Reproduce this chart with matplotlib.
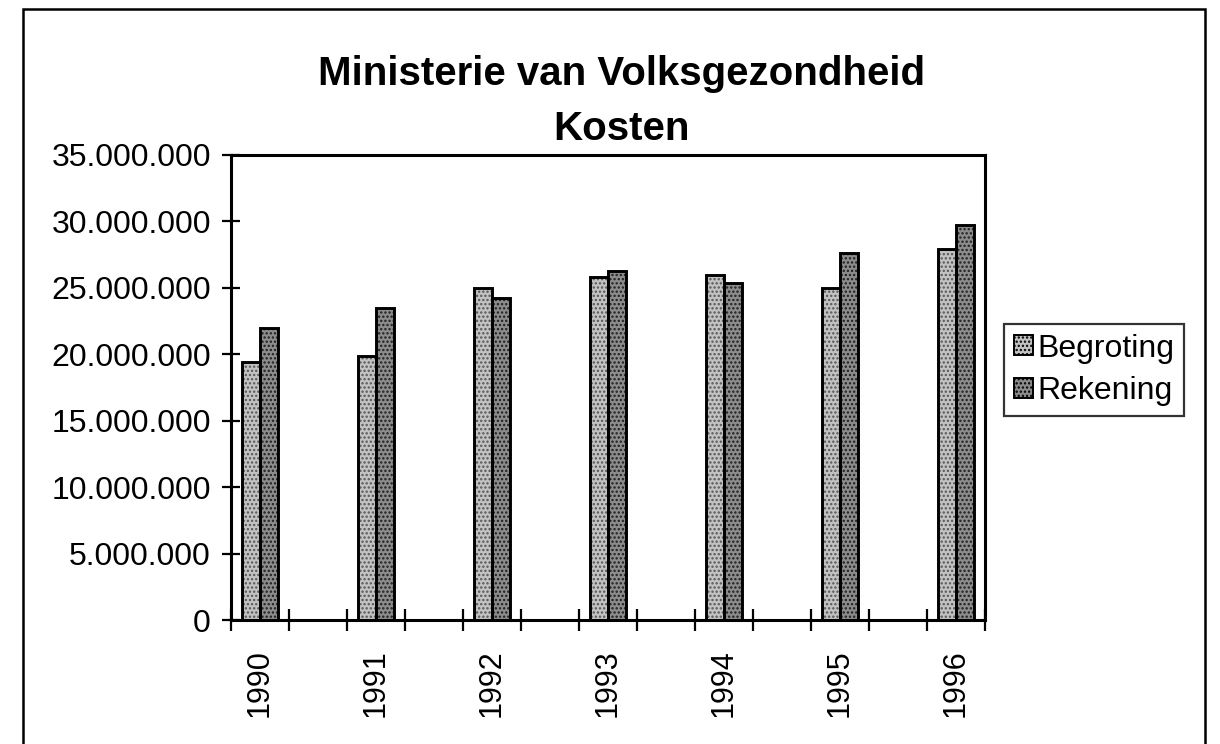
import matplotlib
matplotlib.use("Agg")
import matplotlib.pyplot as plt
from matplotlib.patches import Patch, Rectangle
from matplotlib.ticker import FuncFormatter, FixedLocator

years = ["1990", "1991", "1992", "1993", "1994", "1995", "1996"]
begroting = [19.4e6, 19.9e6, 25.0e6, 25.8e6, 26.0e6, 25.0e6, 27.9e6]
rekening = [22.0e6, 23.5e6, 24.2e6, 26.3e6, 25.4e6, 27.6e6, 29.7e6]
series_names = ["Begroting", "Rekening"]
title_lines = ["Ministerie van Volksgezondheid", "Kosten"]
y_ticks = [0, 5e6, 10e6, 15e6, 20e6, 25e6, 30e6, 35e6]

plt.rcParams['font.family'] = ['Liberation Sans', 'DejaVu Sans']
plt.rcParams['hatch.linewidth'] = 1.1

W, H = 1220, 744
fig = plt.figure(figsize=(W / 100, H / 100), dpi=100)
fig.patch.set_facecolor('white')

ax = fig.add_axes([231 / W, 1 - 620 / H, (985 - 231) / W, (620 - 155) / H])

# categories interleaved with empty slots (as in the original sheet)
pos = [2 * i for i in range(len(years))]
bw = 0.31
c_beg, h_beg = '#c2c2c2', '#555555'
c_rek, h_rek = '#8c8c8c', '#1e1e1e'

xb = [p - bw / 2 for p in pos]
xr = [p + bw / 2 for p in pos]
ax.bar(xb, begroting, width=bw, color=c_beg, hatch='....', edgecolor=h_beg, linewidth=0, zorder=2)
ax.bar(xr, rekening, width=bw, color=c_rek, hatch='....', edgecolor=h_rek, linewidth=0, zorder=2)
ax.bar(xb, begroting, width=bw, fill=False, edgecolor='black', linewidth=2.1, zorder=3)
ax.bar(xr, rekening, width=bw, fill=False, edgecolor='black', linewidth=2.1, zorder=3)

ax.set_xlim(-0.5, 2 * (len(years) - 1) + 0.5)
ax.set_ylim(0, 35e6)

ax.xaxis.set_major_locator(FixedLocator([k - 0.5 for k in range(2 * len(years))]))
ax.xaxis.set_major_formatter(FuncFormatter(lambda v, p: ''))
ax.xaxis.set_minor_locator(FixedLocator(pos))
ax.set_xticklabels(years, minor=True)
ax.tick_params(axis='x', which='major', direction='inout', length=16, width=1.6)
ax.tick_params(axis='x', which='minor', length=0, pad=21, labelsize=22, labelrotation=90)

ax.yaxis.set_major_locator(FixedLocator(y_ticks))
ax.yaxis.set_major_formatter(FuncFormatter(lambda v, p: f"{v:,.0f}".replace(',', '.')))
ax.tick_params(axis='y', direction='inout', length=13, width=1.6, pad=8, labelsize=23)

for s in ax.spines.values():
    s.set_linewidth(2.2)
    s.set_color('black')

# title
fig.text(622 / W, 1 - 85 / H, title_lines[0], ha='center', va='baseline',
         fontsize=29, fontweight='bold')
fig.text(622 / W, 1 - 140 / H, title_lines[1], ha='center', va='baseline',
         fontsize=29, fontweight='bold')

# legend
handles = [Patch(facecolor=c_beg, edgecolor='black', hatch='....', linewidth=1.4),
           Patch(facecolor=c_rek, edgecolor='black', hatch='....', linewidth=1.4)]
leg = fig.legend(handles, series_names, loc='upper left',
                 bbox_to_anchor=(1004 / W, 1 - 324 / H), fontsize=23,
                 frameon=True, fancybox=False, shadow=False, edgecolor='black',
                 handlelength=0.6, handleheight=0.6, handletextpad=0.15,
                 borderpad=0.3, labelspacing=0.4, borderaxespad=0)
leg.get_frame().set_linewidth(1.6)

# outer frame of the chart object
fig.add_artist(Rectangle((23 / W, -0.1), (1205 - 23) / W, 1.1 - 9 / H,
                         transform=fig.transFigure, fill=False,
                         edgecolor='black', linewidth=1.8, clip_on=False))

fig.savefig('out.png', dpi=100, facecolor='white')
